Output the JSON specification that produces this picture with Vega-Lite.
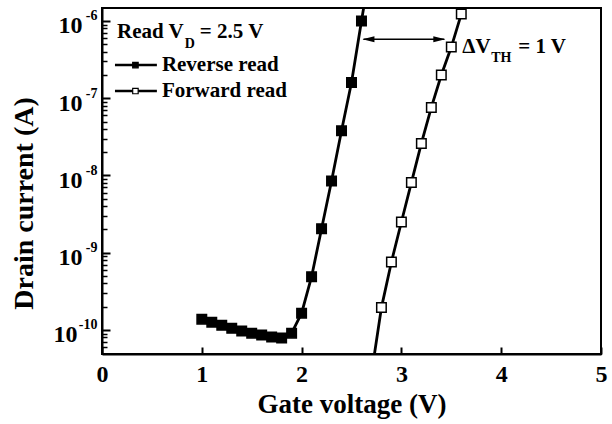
{
  "$schema": "https://vega.github.io/schema/vega-lite/v6.json",
  "width": 499,
  "height": 346,
  "autosize": {"type": "none"},
  "padding": {"left": 102, "top": 8, "right": 11, "bottom": 70},
  "background": "white",
  "config": {
    "view": {"stroke": "black", "strokeWidth": 2},
    "font": "Liberation Serif",
    "axis": {
      "labelFont": "Liberation Serif", "labelFontWeight": "bold", "labelColor": "black",
      "titleFont": "Liberation Serif", "titleFontWeight": "bold", "titleColor": "black",
      "domainColor": "black", "tickColor": "black", "grid": false,
      "labelFlush": false, "labelOverlap": false, "labelBound": false
    }
  },
  "datasets": {
    "curves": [
      {"s": "Reverse read", "v": 1.0, "i": 1.38e-10},
      {"s": "Reverse read", "v": 1.1, "i": 1.26e-10},
      {"s": "Reverse read", "v": 1.2, "i": 1.15e-10},
      {"s": "Reverse read", "v": 1.3, "i": 1.05e-10},
      {"s": "Reverse read", "v": 1.4, "i": 9.7e-11},
      {"s": "Reverse read", "v": 1.5, "i": 9.1e-11},
      {"s": "Reverse read", "v": 1.6, "i": 8.6e-11},
      {"s": "Reverse read", "v": 1.7, "i": 8.1e-11},
      {"s": "Reverse read", "v": 1.8, "i": 7.9e-11},
      {"s": "Reverse read", "v": 1.9, "i": 9.1e-11},
      {"s": "Reverse read", "v": 2.0, "i": 1.65e-10},
      {"s": "Reverse read", "v": 2.1, "i": 4.9e-10},
      {"s": "Reverse read", "v": 2.2, "i": 2.05e-9},
      {"s": "Reverse read", "v": 2.3, "i": 8.5e-9},
      {"s": "Reverse read", "v": 2.4, "i": 3.8e-8},
      {"s": "Reverse read", "v": 2.5, "i": 1.6e-7},
      {"s": "Reverse read", "v": 2.6, "i": 1.0e-6},
      {"s": "Reverse read", "v": 2.7, "i": 6e-6},
      {"s": "Forward read", "v": 2.7, "i": 2.7e-11},
      {"s": "Forward read", "v": 2.8, "i": 1.95e-10},
      {"s": "Forward read", "v": 2.9, "i": 7.6e-10},
      {"s": "Forward read", "v": 3.0, "i": 2.5e-9},
      {"s": "Forward read", "v": 3.1, "i": 8.1e-9},
      {"s": "Forward read", "v": 3.2, "i": 2.6e-8},
      {"s": "Forward read", "v": 3.3, "i": 7.6e-8},
      {"s": "Forward read", "v": 3.4, "i": 2.0e-7},
      {"s": "Forward read", "v": 3.5, "i": 4.6e-7},
      {"s": "Forward read", "v": 3.6, "i": 1.23e-6}
    ]
  },
  "layer": [
    {
      "data": {"name": "curves"},
      "mark": {"type": "line", "color": "black", "strokeWidth": 2.8, "clip": true},
      "encoding": {
        "x": {"field": "v", "type": "quantitative",
          "scale": {"domain": [0, 5], "nice": false, "zero": false},
          "axis": {"title": "Gate voltage (V)", "values": [0, 1, 2, 3, 4, 5], "format": "d",
            "tickSize": -7, "tickWidth": 2, "domainWidth": 2,
            "labelFontSize": 24, "labelPadding": 15, "titleFontSize": 27, "titlePadding": 5}},
        "y": {"field": "i", "type": "quantitative",
          "scale": {"type": "log", "domain": [4.89e-11, 1.473e-6], "nice": false},
          "axis": {"orient": "left", "values": [1e-10, 1e-9, 1e-8, 1e-7, 1e-6], "labelExpr": "'10'",
            "tickSize": -8, "tickWidth": 2, "domainWidth": 2,
            "labelFontSize": 24,
            "labelPadding": {"condition": {"test": "datum.value < 2e-10", "value": 33}, "value": 28},
            "labelOffset": 5,
            "title": "Drain current (A)", "titleFontSize": 28, "titleAngle": -90,
            "titleX": -78, "titleY": 195, "titleAlign": "center", "titleBaseline": "middle"}},
        "detail": {"field": "s"}
      }
    },
    {
      "data": {"name": "curves"},
      "mark": {"type": "square", "stroke": "black", "strokeWidth": 1.5, "size": 90, "opacity": 1, "clip": true},
      "encoding": {
        "x": {"field": "v", "type": "quantitative", "axis": null},
        "y": {"field": "i", "type": "quantitative",
          "axis": {"orient": "left", "values": [1e-10, 1e-9, 1e-8, 1e-7, 1e-6],
            "labelExpr": "'-' + format(-round(log(datum.value)/LN10), 'd')",
            "ticks": false, "domain": false, "labelFontSize": 14, "labelPadding": 5, "labelOffset": -5,
            "title": null}},
        "fill": {"field": "s", "type": "nominal",
          "scale": {"domain": ["Reverse read", "Forward read"], "range": ["black", "white"]}, "legend": null}
      }
    },
    {
      "data": {"values": [{"v": 2.62, "v2": 3.43, "i": 5.8e-7}]},
      "mark": {"type": "rule", "color": "black", "strokeWidth": 1.5},
      "encoding": {
        "x": {"field": "v", "type": "quantitative", "axis": null},
        "x2": {"field": "v2"},
        "y": {"field": "i", "type": "quantitative",
          "axis": {"orient": "left",
            "values": [6e-11, 7e-11, 8e-11, 9e-11,
              2e-10, 3e-10, 4e-10, 5e-10, 6e-10, 7e-10, 8e-10, 9e-10,
              2e-9, 3e-9, 4e-9, 5e-9, 6e-9, 7e-9, 8e-9, 9e-9,
              2e-8, 3e-8, 4e-8, 5e-8, 6e-8, 7e-8, 8e-8, 9e-8,
              2e-7, 3e-7, 4e-7, 5e-7, 6e-7, 7e-7, 8e-7, 9e-7],
            "labels": false, "domain": false, "ticks": true, "tickSize": -5, "tickWidth": 1.5, "tickColor": "black", "title": null}}
      }
    },
    {
      "data": {"values": [{"v": 2.67, "i": 5.8e-7, "d": "left"}, {"v": 3.38, "i": 5.8e-7, "d": "right"}]},
      "mark": {"type": "point", "filled": true, "color": "black", "size": 144, "opacity": 1},
      "encoding": {
        "x": {"field": "v", "type": "quantitative", "axis": null},
        "y": {"field": "i", "type": "quantitative", "axis": null},
        "shape": {"field": "d", "type": "nominal",
          "scale": {"domain": ["left", "right"], "range": ["M -1 0 L 1 -0.5 L 1 0.5 Z", "M 1 0 L -1 -0.5 L -1 0.5 Z"]},
          "legend": null}
      }
    },
    {
      "data": {"values": [
        {"s": "Reverse read", "v": 0.13, "v2": 0.55, "vm": 0.335, "vt": 0.60, "i": 2.69e-7},
        {"s": "Forward read", "v": 0.13, "v2": 0.55, "vm": 0.335, "vt": 0.60, "i": 1.24e-7}
      ]},
      "layer": [
        {
          "mark": {"type": "rule", "color": "black", "strokeWidth": 2.5},
          "encoding": {
            "x": {"field": "v", "type": "quantitative", "axis": null},
            "x2": {"field": "v2"},
            "y": {"field": "i", "type": "quantitative", "axis": null}
          }
        },
        {
          "mark": {"type": "square", "stroke": "black", "strokeWidth": 1.2, "size": 30, "opacity": 1},
          "encoding": {
            "x": {"field": "vm", "type": "quantitative", "axis": null},
            "y": {"field": "i", "type": "quantitative", "axis": null},
            "fill": {"field": "s", "type": "nominal", "legend": null}
          }
        },
        {
          "mark": {"type": "text", "align": "left", "baseline": "middle", "font": "Liberation Serif", "fontWeight": "bold", "fontSize": 21, "color": "black"},
          "encoding": {
            "x": {"field": "vt", "type": "quantitative", "axis": null},
            "y": {"field": "i", "type": "quantitative", "axis": null},
            "text": {"field": "s"}
          }
        }
      ]
    },
    {
      "data": {"values": [
        {"v": 0.15, "i": 7.21e-7, "t": "Read V"},
        {"v": 0.98, "i": 7.21e-7, "t": "= 2.5 V"},
        {"v": 3.61, "i": 4.6e-7, "t": "ΔV"},
        {"v": 4.17, "i": 4.6e-7, "t": "= 1 V"}
      ]},
      "mark": {"type": "text", "align": "left", "baseline": "middle", "font": "Liberation Serif", "fontWeight": "bold", "fontSize": 21, "color": "black"},
      "encoding": {
        "x": {"field": "v", "type": "quantitative", "axis": null},
        "y": {"field": "i", "type": "quantitative", "axis": null},
        "text": {"field": "t"}
      }
    },
    {
      "data": {"values": [
        {"v": 0.83, "i": 5.04e-7, "t": "D"},
        {"v": 3.90, "i": 3.29e-7, "t": "TH"}
      ]},
      "mark": {"type": "text", "align": "left", "baseline": "middle", "font": "Liberation Serif", "fontWeight": "bold", "fontSize": 14, "color": "black"},
      "encoding": {
        "x": {"field": "v", "type": "quantitative", "axis": null},
        "y": {"field": "i", "type": "quantitative", "axis": null},
        "text": {"field": "t"}
      }
    }
  ],
  "resolve": {"axis": {"y": "independent", "x": "independent"}}
}
